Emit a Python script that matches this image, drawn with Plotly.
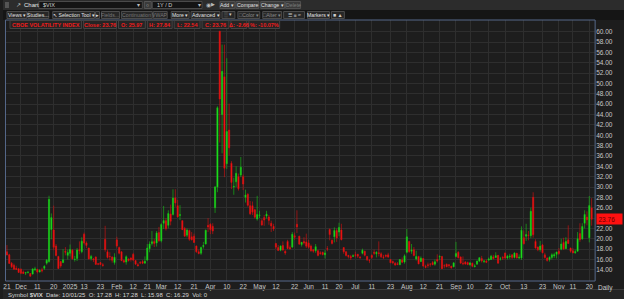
import plotly.graph_objects as go

# ---------------- data ----------------
dates = [
    "2024-11-21", "2024-11-22", "2024-11-25", "2024-11-26", "2024-11-27", "2024-11-29",
    "2024-12-02", "2024-12-03", "2024-12-04", "2024-12-05", "2024-12-06", "2024-12-09", "2024-12-10",
    "2024-12-11", "2024-12-12", "2024-12-13", "2024-12-16", "2024-12-17", "2024-12-18", "2024-12-19",
    "2024-12-20", "2024-12-23", "2024-12-24", "2024-12-26", "2024-12-27", "2024-12-30", "2024-12-31",
    "2025-01-02", "2025-01-03", "2025-01-06", "2025-01-07", "2025-01-08", "2025-01-10", "2025-01-13",
    "2025-01-14", "2025-01-15", "2025-01-16", "2025-01-17", "2025-01-21", "2025-01-22", "2025-01-23",
    "2025-01-24", "2025-01-27", "2025-01-28", "2025-01-29", "2025-01-30", "2025-01-31",
    "2025-02-03", "2025-02-04", "2025-02-05", "2025-02-06", "2025-02-07", "2025-02-10", "2025-02-11",
    "2025-02-12", "2025-02-13", "2025-02-14", "2025-02-18", "2025-02-19", "2025-02-20", "2025-02-21",
    "2025-02-24", "2025-02-25", "2025-02-26", "2025-02-27", "2025-02-28",
    "2025-03-03", "2025-03-04", "2025-03-05", "2025-03-06", "2025-03-07", "2025-03-10", "2025-03-11",
    "2025-03-12", "2025-03-13", "2025-03-14", "2025-03-17", "2025-03-18", "2025-03-19", "2025-03-20",
    "2025-03-21", "2025-03-24", "2025-03-25", "2025-03-26", "2025-03-27", "2025-03-28", "2025-03-31",
    "2025-04-01", "2025-04-02", "2025-04-03", "2025-04-04", "2025-04-07", "2025-04-08", "2025-04-09",
    "2025-04-10", "2025-04-11", "2025-04-14", "2025-04-15", "2025-04-16", "2025-04-17", "2025-04-21",
    "2025-04-22", "2025-04-23", "2025-04-24", "2025-04-25", "2025-04-28", "2025-04-29", "2025-04-30",
    "2025-05-01", "2025-05-02", "2025-05-05", "2025-05-06", "2025-05-07", "2025-05-08", "2025-05-09",
    "2025-05-12", "2025-05-13", "2025-05-14", "2025-05-15", "2025-05-16", "2025-05-19", "2025-05-20",
    "2025-05-21", "2025-05-22", "2025-05-23", "2025-05-27", "2025-05-28", "2025-05-29", "2025-05-30",
    "2025-06-02", "2025-06-03", "2025-06-04", "2025-06-05", "2025-06-06", "2025-06-09", "2025-06-10",
    "2025-06-11", "2025-06-12", "2025-06-13", "2025-06-16", "2025-06-17", "2025-06-18", "2025-06-20",
    "2025-06-23", "2025-06-24", "2025-06-25", "2025-06-26", "2025-06-27", "2025-06-30",
    "2025-07-01", "2025-07-02", "2025-07-03", "2025-07-07", "2025-07-08", "2025-07-09", "2025-07-10",
    "2025-07-11", "2025-07-14", "2025-07-15", "2025-07-16", "2025-07-17", "2025-07-18", "2025-07-21",
    "2025-07-22", "2025-07-23", "2025-07-24", "2025-07-25", "2025-07-28", "2025-07-29", "2025-07-30",
    "2025-07-31",
    "2025-08-01", "2025-08-04", "2025-08-05", "2025-08-06", "2025-08-07", "2025-08-08", "2025-08-11",
    "2025-08-12", "2025-08-13", "2025-08-14", "2025-08-15", "2025-08-18", "2025-08-19", "2025-08-20",
    "2025-08-21", "2025-08-22", "2025-08-25", "2025-08-26", "2025-08-27", "2025-08-28", "2025-08-29",
    "2025-09-02", "2025-09-03", "2025-09-04", "2025-09-05", "2025-09-08", "2025-09-09", "2025-09-10",
    "2025-09-11", "2025-09-12", "2025-09-15", "2025-09-16", "2025-09-17", "2025-09-18", "2025-09-19",
    "2025-09-22", "2025-09-23", "2025-09-24", "2025-09-25", "2025-09-26", "2025-09-29", "2025-09-30",
    "2025-10-01", "2025-10-02", "2025-10-03", "2025-10-06", "2025-10-07", "2025-10-08", "2025-10-09",
    "2025-10-10", "2025-10-13", "2025-10-14", "2025-10-15", "2025-10-16", "2025-10-17", "2025-10-20",
    "2025-10-21", "2025-10-22", "2025-10-23", "2025-10-24", "2025-10-27", "2025-10-28", "2025-10-29",
    "2025-10-30", "2025-10-31",
    "2025-11-03", "2025-11-04", "2025-11-05", "2025-11-06", "2025-11-07", "2025-11-10", "2025-11-11",
    "2025-11-12", "2025-11-13", "2025-11-14", "2025-11-17", "2025-11-18", "2025-11-19", "2025-11-20",
    "2025-11-21",
]

open_ = [
    17.50, 16.90, 15.30, 14.90, 14.30, 14.20,
    14.10, 13.60, 13.40, 13.50, 13.30, 13.20, 14.00, 14.10, 13.60, 14.00, 14.30, 15.30, 15.60, 21.80,
    21.70, 18.60, 16.60, 15.60, 15.40, 17.60, 16.80,
    17.20, 17.80, 16.00, 16.20, 17.90, 17.50, 20.90, 19.20, 18.20, 16.20, 16.10, 16.50, 15.20, 15.40,
    15.00, 19.90, 17.50, 16.60, 16.50, 15.40,
    19.80, 18.30, 17.50, 15.80, 15.50, 16.10, 16.30, 17.00, 15.80, 15.00, 15.40, 15.60, 15.30, 15.90,
    18.10, 19.10, 19.50, 19.20, 21.20,
    19.60, 23.00, 23.50, 22.60, 24.80, 24.70, 27.90, 26.40, 24.50, 23.50, 22.00, 20.70, 21.60, 20.40,
    20.50, 18.60, 17.50, 17.20, 18.50, 19.00, 22.60,
    22.80, 22.40, 26.00, 30.00, 60.10, 44.00, 51.30, 34.50, 41.00, 34.60, 30.00, 31.00, 32.00, 32.30,
    32.00, 28.00, 28.60, 26.40, 26.40, 25.60, 23.80,
    24.50, 23.50, 24.10, 24.40, 24.20, 23.00, 22.40, 19.10, 18.30, 17.80, 18.70, 17.60, 19.50, 18.30,
    18.40, 20.60, 22.80, 20.50, 18.90, 19.50, 19.40,
    19.20, 18.60, 17.90, 17.70, 17.70, 17.30, 17.40, 16.90, 18.10, 21.80, 19.70, 20.40, 21.60, 21.30,
    21.70, 18.30, 17.50, 16.80, 16.60, 16.60,
    16.90, 17.00, 16.50, 17.20, 17.60, 16.60, 15.80, 16.80, 17.40, 17.10, 17.30, 17.10, 16.50, 16.80,
    16.90, 16.00, 15.60, 15.30, 15.20, 15.00, 15.90, 15.50,
    17.40, 19.50, 17.60, 17.90, 16.10, 16.60, 15.60, 16.20, 14.70, 15.00, 15.10, 15.40, 15.10, 16.00,
    16.50, 16.60, 14.80, 15.10, 15.00, 14.70, 14.60,
    16.60, 17.40, 16.50, 15.30, 15.50, 15.40, 15.00, 15.30, 14.60, 15.10, 15.70, 16.20, 15.60, 15.70,
    15.90, 16.00, 16.50, 16.40, 16.80, 16.10, 16.40,
    17.28, 16.30, 16.50, 16.90, 16.40, 17.20, 16.30, 16.30, 20.20, 20.50, 20.70, 20.60, 28.00, 19.50,
    18.40, 17.90, 18.80, 16.90, 16.30, 16.00, 16.40, 16.70, 17.00,
    17.60, 18.00, 19.30, 18.10, 19.80, 18.20, 17.70, 17.30, 17.60, 21.00, 20.00, 23.00, 24.20, 20.20,
    25.97,
]

high = [
    18.79, 17.10, 15.50, 15.20, 14.80, 14.30,
    14.30, 13.90, 13.60, 13.80, 13.40, 14.30, 14.60, 14.20, 14.10, 14.40, 14.90, 16.10, 28.32, 24.90,
    26.40, 19.00, 16.70, 15.70, 18.00, 18.40, 17.90,
    18.90, 18.00, 16.70, 18.20, 19.50, 20.30, 21.20, 19.50, 18.30, 16.90, 16.30, 16.60, 15.30, 15.50,
    15.30, 22.51, 17.90, 17.40, 16.60, 17.20,
    20.40, 18.50, 17.60, 16.00, 16.80, 16.20, 16.40, 17.30, 15.90, 15.30, 15.70, 15.90, 16.60, 19.00,
    19.50, 21.50, 20.00, 21.50, 22.30,
    23.00, 26.35, 24.00, 25.50, 26.60, 29.56, 29.57, 27.50, 26.50, 23.60, 22.30, 22.00, 21.80, 21.30,
    21.00, 18.70, 17.90, 18.50, 19.40, 21.80, 24.00,
    23.00, 23.00, 30.20, 45.60, 60.13, 57.50, 57.50, 54.87, 46.10, 35.00, 31.80, 34.00, 32.60, 35.80,
    32.40, 29.50, 28.80, 27.30, 27.20, 25.80, 28.30,
    25.40, 23.90, 24.60, 25.40, 24.60, 23.50, 22.90, 19.20, 18.80, 18.70, 19.50, 17.80, 19.80, 18.70,
    21.30, 21.20, 25.50, 20.60, 19.40, 20.30, 21.00,
    19.80, 18.90, 18.00, 19.00, 17.90, 17.60, 17.50, 17.80, 18.60, 22.00, 19.90, 22.20, 22.00, 23.10,
    22.90, 18.40, 17.60, 16.90, 16.90, 17.00,
    17.50, 17.10, 16.60, 18.10, 17.70, 16.70, 16.10, 17.00, 17.90, 17.60, 19.50, 17.40, 16.90, 17.00,
    17.30, 16.10, 15.80, 15.50, 15.50, 16.10, 16.40, 17.00,
    21.90, 19.60, 19.00, 18.40, 17.70, 16.70, 16.60, 16.30, 15.00, 15.40, 15.30, 15.70, 16.00, 17.00,
    16.80, 16.70, 15.10, 15.20, 15.10, 14.80, 15.40,
    19.40, 17.60, 16.60, 16.60, 15.70, 15.60, 15.50, 15.40, 15.10, 15.80, 16.40, 16.70, 15.90, 16.00,
    16.40, 16.90, 16.90, 17.40, 16.90, 16.50, 16.70,
    17.28, 16.90, 17.10, 17.00, 17.40, 17.30, 17.00, 22.40, 21.60, 22.90, 21.50, 26.00, 28.99, 19.90,
    18.50, 19.60, 19.00, 17.30, 16.40, 16.60, 17.20, 17.30, 17.50,
    18.20, 20.00, 20.20, 20.30, 22.60, 18.30, 18.20, 17.90, 21.30, 23.00, 23.00, 25.50, 25.30, 28.27,
    27.84,
]

low = [
    16.81, 15.16, 14.34, 14.06, 14.00, 13.43,
    13.17, 13.20, 12.99, 13.30, 12.70, 13.10, 13.80, 13.30, 13.50, 13.50, 14.00, 15.00, 15.40, 19.90,
    17.80, 16.60, 14.20, 14.40, 15.30, 16.80, 16.00,
    16.60, 16.00, 15.60, 15.70, 17.00, 17.20, 18.90, 18.20, 16.00, 15.80, 15.50, 15.00, 14.90, 14.90,
    14.60, 17.50, 16.20, 15.80, 15.40, 15.00,
    18.30, 17.00, 15.70, 15.30, 15.00, 15.60, 15.60, 15.70, 15.00, 14.70, 15.10, 15.10, 15.20, 15.70,
    17.40, 18.70, 18.40, 18.50, 19.40,
    19.30, 21.90, 21.60, 22.00, 22.60, 24.50, 26.20, 24.10, 23.60, 21.70, 20.40, 20.30, 19.60, 19.70,
    19.20, 17.30, 17.00, 16.90, 18.10, 18.90, 21.30,
    20.90, 20.90, 25.00, 29.00, 38.58, 36.50, 31.90, 33.50, 36.10, 29.60, 28.50, 30.00, 29.30, 31.90,
    29.40, 27.00, 26.20, 24.60, 24.60, 23.90, 23.50,
    24.00, 22.50, 22.50, 23.90, 22.70, 21.30, 21.50, 18.00, 17.70, 17.60, 17.70, 16.90, 18.00, 17.90,
    18.20, 19.80, 21.10, 18.90, 18.50, 18.90, 18.20,
    18.10, 17.50, 17.30, 17.30, 16.60, 16.90, 16.80, 16.20, 17.60, 19.70, 18.90, 19.30, 19.40, 20.50,
    19.70, 17.10, 16.60, 16.20, 15.90, 16.50,
    16.40, 16.30, 16.10, 17.00, 16.60, 15.70, 15.30, 16.10, 16.90, 16.40, 16.60, 16.30, 16.10, 16.40,
    16.30, 15.30, 15.10, 14.80, 14.90, 14.90, 15.30, 15.20,
    17.20, 17.30, 17.10, 16.60, 15.80, 15.10, 15.50, 14.60, 14.30, 14.40, 14.60, 14.90, 14.80, 15.40,
    15.90, 14.20, 14.30, 14.50, 14.40, 14.20, 14.50,
    16.40, 16.20, 15.20, 14.90, 15.00, 14.90, 14.80, 14.50, 14.50, 15.00, 15.50, 15.40, 15.30, 15.30,
    15.70, 15.90, 16.00, 16.30, 15.20, 15.80, 15.90,
    15.98, 16.00, 16.10, 16.10, 16.20, 16.20, 16.10, 15.90, 18.90, 19.60, 19.70, 20.10, 20.20, 18.10,
    17.60, 17.50, 17.20, 16.20, 15.60, 15.60, 16.00, 16.30, 16.20,
    16.90, 17.80, 17.90, 18.00, 19.00, 17.30, 17.20, 17.10, 17.50, 19.40, 19.80, 22.00, 22.60, 19.30,
    22.54,
]

close = [
    16.87, 15.24, 14.60, 14.10, 14.10, 13.51,
    13.34, 13.30, 13.45, 13.54, 12.77, 14.19, 14.18, 13.58, 13.92, 13.81, 14.69, 15.87, 27.62, 24.09,
    18.36, 16.78, 14.27, 14.73, 15.95, 17.40, 17.35,
    17.93, 16.13, 16.04, 17.82, 17.70, 19.54, 19.19, 18.71, 16.12, 16.60, 15.97, 15.06, 15.10, 15.02,
    14.85, 17.90, 16.41, 16.56, 15.84, 16.43,
    18.62, 17.21, 15.77, 15.50, 16.54, 15.81, 16.02, 15.89, 15.10, 14.77, 15.35, 15.27, 15.66, 18.21,
    18.98, 19.43, 19.10, 21.13, 19.63,
    22.78, 23.51, 21.93, 24.87, 23.37, 27.86, 26.92, 24.23, 24.66, 21.77, 20.51, 21.70, 19.90, 19.80,
    19.28, 17.48, 17.15, 18.33, 18.69, 21.65, 22.28,
    21.77, 21.51, 30.02, 45.31, 46.98, 52.33, 33.62, 40.72, 37.56, 30.89, 30.12, 32.64, 29.65, 33.82,
    30.57, 28.45, 26.47, 24.84, 25.15, 24.17, 24.70,
    24.60, 22.68, 23.64, 24.76, 23.55, 22.48, 21.90, 18.39, 17.72, 18.62, 17.83, 17.24, 18.14, 18.09,
    20.87, 20.28, 22.29, 18.96, 19.31, 19.18, 18.57,
    18.36, 17.69, 17.61, 18.48, 16.77, 17.16, 16.95, 17.26, 18.02, 20.82, 19.11, 21.60, 20.14, 22.20,
    19.83, 17.48, 16.76, 16.59, 16.32, 16.73,
    16.83, 16.64, 16.38, 17.79, 16.81, 15.94, 15.78, 16.40, 17.20, 17.38, 17.16, 16.52, 16.41, 16.65,
    16.50, 15.37, 15.39, 14.93, 15.03, 15.98, 15.48, 16.72,
    20.38, 17.52, 17.85, 16.77, 16.57, 15.15, 16.25, 14.73, 14.49, 14.83, 15.09, 15.00, 15.57, 15.69,
    16.60, 14.22, 14.79, 14.62, 14.85, 14.43, 15.36,
    17.17, 16.35, 15.30, 15.18, 15.11, 15.04, 15.35, 14.71, 14.76, 15.69, 16.36, 15.72, 15.70, 15.45,
    16.10, 16.64, 16.18, 16.74, 15.29, 16.12, 16.28,
    16.29, 16.63, 16.65, 16.37, 17.24, 16.30, 16.43, 21.66, 19.03, 20.81, 20.64, 25.31, 20.78, 18.23,
    17.87, 18.60, 17.30, 16.37, 15.79, 16.42, 16.92, 16.91, 17.44,
    17.17, 19.00, 18.01, 19.50, 19.08, 17.60, 17.28, 17.51, 20.00, 19.83, 22.38, 24.69, 23.66, 26.42,
    23.76,
]

tick_dates = [
    "2024-11-21", "2024-12-02", "2024-12-11", "2024-12-20", "2025-01-02", "2025-01-13", "2025-01-23",
    "2025-02-03", "2025-02-12", "2025-02-21", "2025-03-03", "2025-03-12", "2025-03-21", "2025-04-01",
    "2025-04-10", "2025-04-22", "2025-05-01", "2025-05-12", "2025-05-22", "2025-06-02", "2025-06-11",
    "2025-06-20", "2025-07-01", "2025-07-11", "2025-07-23", "2025-08-01", "2025-08-12", "2025-08-21",
    "2025-09-02", "2025-09-10", "2025-09-22", "2025-10-01", "2025-10-13", "2025-10-23", "2025-11-03",
    "2025-11-11", "2025-11-20",
]
tick_text = [
    "21", "Dec", "11", "20", "2025", "13", "23", "Feb", "12", "21", "Mar", "12", "21", "Apr",
    "10", "22", "May", "12", "22", "Jun", "11", "20", "Jul", "11", "23", "Aug", "12", "21",
    "Sep", "10", "22", "Oct", "13", "23", "Nov", "11", "20",
]
y_ticks = [14, 16, 18, 20, 22, 24, 26, 28, 30, 32, 34, 36, 38, 40, 42, 44, 46, 48, 50, 52, 54, 56, 58, 60]

header_fields = ["CBOE VOLATILITY INDEX", "Close: 23.76", "O: 25.97", "H: 27.84", "L: 22.54",
                 "C: 23.76", "\u0394: -2.66", "%: -10.07%"]
footer_text = "Symbol <b>$VIX</b>  Date: 10/01/25  O: 17.28  H: 17.28  L: 15.98  C: 16.29  Vol: 0"

assert len(dates) == len(open_) == len(high) == len(low) == len(close)

# y tick labels: the one hidden under the last-price box is left blank
last = close[-1]
y_ticktext = ["" if abs(v - last) < 1.2 else "%.2f" % v for v in y_ticks]

# ---------------- helpers (pixel -> paper) ----------------
W, H = 624, 299
def px(x):
    return x / W
def py(y):
    return 1 - y / H

FONT = "Liberation Sans, Arial, sans-serif"

fig = go.Figure(go.Candlestick(
    x=dates, open=open_, high=high, low=low, close=close,
    increasing=dict(line=dict(color="#16c816", width=0.6), fillcolor="#22ee22"),
    decreasing=dict(line=dict(color="#dd1010", width=0.6), fillcolor="#ff1414"),
    whiskerwidth=0, hoverinfo="skip",
))

shapes = []
annotations = []

def rect(x0, y0, x1, y1, fill, line=None, lw=1, layer="above"):
    shapes.append(dict(type="rect", xref="paper", yref="paper",
                       x0=px(x0), x1=px(x1), y0=py(y1), y1=py(y0),
                       fillcolor=fill, line=dict(color=line or fill, width=lw if line else 0),
                       layer=layer))

def text(x, y, s, color="#d8d8d8", size=6.5, anchor="left", **kw):
    annotations.append(dict(xref="paper", yref="paper", x=px(x), y=py(y), text=s,
                            showarrow=False, xanchor=anchor, yanchor="middle",
                            font=dict(family=FONT, size=size, color=color), **kw))

# toolbar row 1
rect(0, 0, 624, 10, "#2c2c2c", layer="below")
rect(0, 10, 624, 20, "#151515", layer="below")
rect(2, 2, 6, 8, "#555555")
text(11, 5, "\u2197", color="#cfcfcf", size=6)
text(19, 5, "Chart", color="#e6e6e6", size=6)
rect(36, 1.5, 140, 8.5, "#141414", "#4a4a4a")
text(38, 5, "$VIX", color="#d0d0d0", size=5.5)
text(136, 5, "\u25be", color="#bbbbbb", size=5.5, anchor="center")
rect(142, 1.5, 149, 8.5, "#3a3a3a", "#555555")
text(145.5, 5, "\u25cb", color="#dddddd", size=5, anchor="center")
rect(150, 1.5, 200, 8.5, "#141414", "#4a4a4a")
text(153, 5, "1Y / D", color="#d0d0d0", size=5.5)
text(197, 5, "\u25be", color="#bbbbbb", size=5.5, anchor="center")
text(206, 5, "\u25c9", color="#bbbbbb", size=5.5, anchor="center")
text(211, 5, "\u25b6", color="#bbbbbb", size=4.5, anchor="center")
for lab, x0, x1, col in [("Add \u25be", 218, 233, "#e0e0e0"), ("Compare", 234, 257, "#e0e0e0"),
                          ("Change \u25be", 259, 283, "#e0e0e0"), ("Delete", 284, 299, "#7a7a7a")]:
    rect(x0, 1.5, x1, 8.5, "#3a3a3a", "#505050")
    text((x0 + x1) / 2, 5, lab, color=col, size=5.2, anchor="center")

# toolbar row 2
for lab, x0, x1, col in [("Views \u25be", 4, 24, "#e0e0e0"), ("Studies...", 25, 46, "#e0e0e0"),
                          ("\u2196 Selection Tool \u25be", 50, 92, "#e0e0e0"), ("\u25b8", 93, 97, "#e0e0e0"),
                          ("Fields...", 99, 117, "#777777"), ("Continuation", 119, 150, "#777777"),
                          ("VWAP", 151, 165, "#777777"), ("More \u25be", 169, 187, "#e0e0e0"),
                          ("Advanced \u25be", 189, 218, "#e0e0e0"), ("\u2591 \u25be", 220, 233, "#cccccc"),
                          ("\u25a1Color \u25be", 236, 258, "#8a8a8a"), ("\u25a1Alter \u25be", 261, 280, "#8a8a8a"),
                          ("\u2630 \u2261 \u2248", 282, 303, "#cccccc"), ("Markers \u25be", 306, 328, "#e0e0e0"),
                          ("\u25a0 \u25b2", 330, 343, "#cccccc")]:
    rect(x0, 11.5, x1, 18.5, "#272727", "#4c4c4c")
    text((x0 + x1) / 2, 15, lab, color=col, size=5.2, anchor="center")

# plot frame
shapes.append(dict(type="rect", xref="paper", yref="paper", x0=px(2.5), x1=px(595), y0=py(281), y1=py(20),
                   line=dict(color="#56698a", width=1), fillcolor="rgba(0,0,0,0)", layer="above"))

# header boxes
hx = [7, 81, 116, 145, 172, 200, 229, 247]
hx1 = [79, 114, 143, 170, 198, 227, 245, 278]
for s, x0, x1 in zip(header_fields, hx, hx1):
    rect(x0, 20.5, x1, 28.5, "#252525", "#444444")
    text((x0 + x1) / 2, 24.5, "<b>%s</b>" % s, color="#ee1c1c", size=5.5, anchor="center")

# last price label
annotations.append(dict(xref="paper", yref="y", x=px(596), y=last, text="%.2f" % last,
                        showarrow=False, xanchor="left", yanchor="middle",
                        font=dict(family=FONT, size=6.5, color="#6a0000"),
                        bgcolor="#ff1010", borderpad=1.5, width=22, align="left"))

# "Daily" label
text(596, 287.5, "Daily", color="#c8c8c8", size=6.5)

# footer
rect(0, 289.5, 624, 299, "#242424", layer="below")
shapes.append(dict(type="line", xref="paper", yref="paper", x0=0, x1=1, y0=py(289.5), y1=py(289.5),
                   line=dict(color="#3a3a3a", width=1)))
text(3, 294.5, footer_text, color="#d4d4d4", size=6)

fig.update_layout(
    width=W, height=H, margin=dict(l=0, r=0, t=0, b=0),
    paper_bgcolor="#1d1d1d", plot_bgcolor="#1d1d1d", showlegend=False,
    shapes=shapes, annotations=annotations,
    xaxis=dict(type="category", domain=[px(3), px(595)], range=[-0.4, 251.5],
               rangeslider=dict(visible=False), tickmode="array", tickvals=tick_dates, ticktext=tick_text,
               showgrid=True, gridcolor="#2e2e2e", gridwidth=1, ticks="", showline=False, zeroline=False,
               tickfont=dict(family=FONT, size=6.5, color="#c8c8c8"), tickangle=0, fixedrange=True),
    yaxis=dict(domain=[py(281), py(20)], side="right", range=[11.85, 62.25], tickmode="array",
               tickvals=y_ticks, ticktext=y_ticktext, showgrid=True, gridcolor="#2e2e2e", gridwidth=1,
               ticks="", showline=False, zeroline=False,
               tickfont=dict(family=FONT, size=6.5, color="#c8c8c8"), fixedrange=True),
)

fig.write_html("out.html")
